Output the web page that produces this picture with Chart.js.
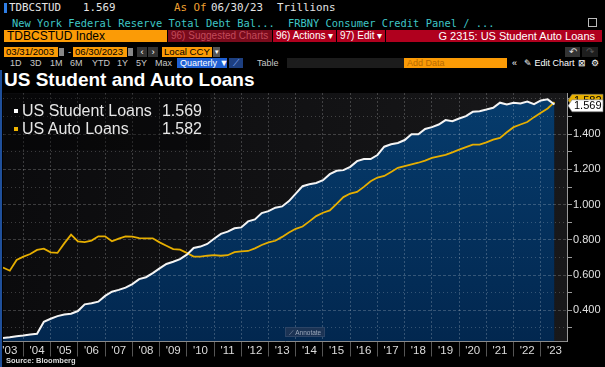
<!DOCTYPE html>
<html>
<head>
<meta charset="utf-8">
<script src="https://cdn.jsdelivr.net/npm/chart.js@4.4.0/dist/chart.umd.min.js"></script>
<style>
body{margin:0;background:#000;width:605px;height:367px;overflow:hidden;position:relative;font-family:"Liberation Sans",Arial,sans-serif;color:#ddd}
.a{position:absolute;white-space:nowrap}
.mono{font-family:"DejaVu Sans Mono",monospace}
.r1{top:2px;font-size:10.8px;line-height:12px;color:#e4e4e4}
.r2{top:17px;font-size:10.4px;line-height:12px;color:#3fc6c6}
.r3{top:30px;height:12px;line-height:12px;font-size:10px;color:#fff;padding-left:3px;box-sizing:border-box;overflow:hidden}
.r4{top:47px;height:10px;line-height:10px;font-size:9.6px;color:#000;box-sizing:border-box;padding-left:2px}
.r5{top:58px;height:10px;line-height:10px;font-size:9px;color:#c8c8c8}
.org{background:#fb9b06}
.red{background:#b0001e}
#plotbg{position:absolute;left:3px;top:93px;width:564px;height:249px;background:linear-gradient(90deg,#0b0b0d,#18181a)}
#legend{position:absolute;left:4px;top:94px;width:206px;height:56px;background:rgba(0,0,0,0.35);font-size:16px;line-height:18px;color:#e6e6e6;padding-top:8px;box-sizing:border-box;z-index:2}
#legend .row{position:relative;height:18px}
#legend .sq{position:absolute;left:10px;top:7px;width:4px;height:4px}
#legend .nm{position:absolute;left:18px;top:0}
#legend .vl{position:absolute;right:8px;top:0}
</style>
</head>
<body>
<!-- header rows -->
<div class="a" style="left:4px;top:3px;width:3px;height:10px;background:#2f7ee6"></div>
<div class="a mono r1" style="left:9px">TDBCSTUD</div>
<div class="a mono r1" style="left:83px">1.569</div>
<div class="a mono r1" style="left:174px;color:#f0a030">As Of</div>
<div class="a mono r1" style="left:211px">06/30/23</div>
<div class="a mono r1" style="left:277px">Trillions</div>
<div class="a mono r2" style="left:12px">New York Federal Reserve Total Debt Bal...</div>
<div class="a mono r2" style="left:288px">FRBNY Consumer Credit Panel / ...</div>
<div class="a" style="left:588px;top:18px;width:7px;height:7px;border:1px solid #bbb"></div>

<div class="a r3 org" style="left:4px;width:163px;color:#000;font-size:12px">TDBCSTUD Index</div>
<div class="a r3" style="left:168px;width:104px;background:#7a0b1c;color:#c24a5a">96) Suggested Charts</div>
<div class="a r3 red" style="left:273px;width:63px">96) Actions ▾</div>
<div class="a r3 red" style="left:337px;width:48px">97) Edit ▾</div>
<div class="a r3 red" style="left:386px;width:216px;text-align:right;padding-right:7px;font-size:11px">G 2315: US Student Auto Loans</div>

<div class="a r4 org" style="left:4px;width:54px">03/31/2003</div>
<div class="a" style="left:59px;top:48px;width:5px;height:8px;background:#888"></div>
<div class="a r4" style="left:66px;color:#ccc">-</div>
<div class="a r4 org" style="left:73px;width:54px">06/30/2023</div>
<div class="a" style="left:128px;top:48px;width:5px;height:8px;background:#888"></div>
<div class="a r4" style="left:137px;width:10px;background:#333;color:#fff;text-align:center;padding:0">‹</div>
<div class="a r4" style="left:148px;width:10px;background:#333;color:#fff;text-align:center;padding:0">›</div>
<div class="a r4 org" style="left:162px;width:50px">Local CCY</div>
<div class="a r4" style="left:213px;width:7px;background:#555;color:#fff;padding:0;text-align:center;font-size:7px">▾</div>
<div class="a r4" style="left:565px;width:15px;background:#333;color:#ddd;padding:0;text-align:center">↶</div>
<div class="a r4" style="left:582px;width:16px;background:#1e1e1e;color:#555;padding:0;text-align:center">↷</div>

<div class="a r5" style="left:10px">1D</div>
<div class="a r5" style="left:30px">3D</div>
<div class="a r5" style="left:50px">1M</div>
<div class="a r5" style="left:70px">6M</div>
<div class="a r5" style="left:92px">YTD</div>
<div class="a r5" style="left:117px">1Y</div>
<div class="a r5" style="left:136px">5Y</div>
<div class="a r5" style="left:155px">Max</div>
<div class="a r5" style="left:177px;width:50px;background:#1f60d4;color:#fff;padding-left:3px;box-sizing:border-box">Quarterly ▼</div>
<div class="a r5" style="left:229px;width:14px;background:#1d3f80;color:#8fb4ff;text-align:center">⟋</div>
<div class="a r5" style="left:257px">Table</div>
<div class="a r5" style="left:287px;width:117px;background:#1c1c1c"></div>
<div class="a r5 org" style="left:404px;width:103px;color:#b86a00;padding-left:3px;box-sizing:border-box">Add Data</div>
<div class="a r5" style="left:512px;color:#fff">«</div>
<div class="a r5" style="left:524px;color:#fff">✎ Edit Chart</div>
<div class="a r5" style="left:578px;color:#fff">⊠</div>
<div class="a r5" style="left:591px;color:#fff">⚙</div>

<div class="a" style="left:4px;top:69px;font-size:19px;line-height:22px;font-weight:bold;color:#fff">US Student and Auto Loans</div>
<div class="a" style="left:0;top:70px;width:2px;height:297px;background:#1f4f9a"></div>

<div id="plotbg"></div>
<canvas id="chart" width="605" height="275" style="position:absolute;left:0;top:92px"></canvas>

<div id="legend">
  <div class="row"><div class="sq" style="background:#fff"></div><div class="nm">US Student Loans</div><div class="vl" id="vStudent"></div></div>
  <div class="row"><div class="sq" style="background:#f0b400"></div><div class="nm">US Auto Loans</div><div class="vl" id="vAuto"></div></div>
</div>
<div class="a" style="left:285px;top:327px;width:40px;height:10px;line-height:10px;background:rgba(30,52,84,0.9);border:1px solid #2c4466;box-sizing:border-box;font-size:6.5px;color:#9aa8bb;text-align:center;z-index:2">⟋ Annotate</div>
<div class="a" style="left:6px;top:357px;font-size:7.5px;line-height:8px;font-weight:bold;color:#ddd">Source: Bloomberg</div>

<script>
// quarterly observations, end of quarter (trillions USD)
const quarters = [
  '2003Q1','2003Q2','2003Q3','2003Q4','2004Q1','2004Q2','2004Q3','2004Q4',
  '2005Q1','2005Q2','2005Q3','2005Q4','2006Q1','2006Q2','2006Q3','2006Q4',
  '2007Q1','2007Q2','2007Q3','2007Q4','2008Q1','2008Q2','2008Q3','2008Q4',
  '2009Q1','2009Q2','2009Q3','2009Q4','2010Q1','2010Q2','2010Q3','2010Q4',
  '2011Q1','2011Q2','2011Q3','2011Q4','2012Q1','2012Q2','2012Q3','2012Q4',
  '2013Q1','2013Q2','2013Q3','2013Q4','2014Q1','2014Q2','2014Q3','2014Q4',
  '2015Q1','2015Q2','2015Q3','2015Q4','2016Q1','2016Q2','2016Q3','2016Q4',
  '2017Q1','2017Q2','2017Q3','2017Q4','2018Q1','2018Q2','2018Q3','2018Q4',
  '2019Q1','2019Q2','2019Q3','2019Q4','2020Q1','2020Q2','2020Q3','2020Q4',
  '2021Q1','2021Q2','2021Q3','2021Q4','2022Q1','2022Q2','2022Q3','2022Q4',
  '2023Q1','2023Q2'
];

const studentLoans = [
  0.243, 0.247, 0.253, 0.257, 0.263, 0.267, 0.335, 0.352,
  0.367, 0.376, 0.381, 0.396, 0.434, 0.440, 0.449, 0.482,
  0.506, 0.516, 0.529, 0.549, 0.577, 0.588, 0.611, 0.638,
  0.663, 0.676, 0.691, 0.716, 0.754, 0.762, 0.777, 0.806,
  0.834, 0.847, 0.866, 0.871, 0.905, 0.916, 0.952, 0.963,
  0.983, 0.990, 1.020, 1.063, 1.105, 1.116, 1.123, 1.139,
  1.173, 1.192, 1.196, 1.215, 1.247, 1.259, 1.259, 1.282,
  1.329, 1.343, 1.350, 1.367, 1.400, 1.400, 1.430, 1.440,
  1.455, 1.480, 1.474, 1.489, 1.503, 1.527, 1.531, 1.540,
  1.550, 1.579, 1.569, 1.579, 1.575, 1.585, 1.571, 1.592,
  1.598, 1.569
];

const autoLoans = [
  0.643, 0.625, 0.686, 0.705, 0.720, 0.743, 0.750, 0.729,
  0.726, 0.780, 0.830, 0.792, 0.787, 0.796, 0.820, 0.820,
  0.792, 0.807, 0.820, 0.818, 0.810, 0.809, 0.809, 0.786,
  0.767, 0.748, 0.745, 0.726, 0.705, 0.705, 0.710, 0.713,
  0.710, 0.713, 0.730, 0.735, 0.737, 0.752, 0.771, 0.786,
  0.795, 0.817, 0.842, 0.863, 0.876, 0.905, 0.935, 0.954,
  0.967, 1.005, 1.043, 1.063, 1.072, 1.101, 1.133, 1.154,
  1.163, 1.186, 1.209, 1.219, 1.229, 1.238, 1.250, 1.265,
  1.274, 1.283, 1.297, 1.312, 1.327, 1.341, 1.341, 1.354,
  1.369, 1.379, 1.411, 1.440, 1.455, 1.469, 1.497, 1.522,
  1.546, 1.582
];

const yearLabels = ["'03","'04","'05","'06","'07","'08","'09","'10","'11","'12","'13",
                    "'14","'15","'16","'17","'18","'19","'20","'21","'22","'23"];
const firstYear = 2003;
const yGrid = [0.3, 0.4, 0.5, 0.6, 0.7, 0.8, 0.9, 1.0, 1.1, 1.2, 1.3, 1.4, 1.5, 1.6];
const yLabels = ['0.400', '0.600', '0.800', '1.000', '1.200', '1.400'];

// quarter label -> decimal year at quarter end
function qToYear(q) {
  return parseInt(q.slice(0, 4)) + parseInt(q.slice(5)) * 0.25;
}
const toPoints = (arr) => arr.map((v, i) => ({ x: qToYear(quarters[i]), y: v }));

document.getElementById('vStudent').textContent = studentLoans[studentLoans.length - 1].toFixed(3);
document.getElementById('vAuto').textContent = autoLoans[autoLoans.length - 1].toFixed(3);

const gridCol = 'rgba(255,255,255,0.2)';

// last value tags on the right axis
const lastTags = {
  id: 'lastTags',
  afterDraw(chart) {
    const { ctx, chartArea } = chart;
    const ys = chart.scales.y;
    const tags = [
      { v: autoLoans[autoLoans.length - 1], bg: '#e8b000' },
      { v: studentLoans[studentLoans.length - 1], bg: '#ffffff' }
    ];
    let p = tags.map(t => ys.getPixelForValue(t.v));
    if (Math.abs(p[0] - p[1]) < 12) {
      const m = (p[0] + p[1]) / 2;
      p = [m - 3, m + 2.5];
    }
    const x0 = chartArea.right + 1;
    ctx.save();
    tags.forEach((t, i) => {
      const y = p[i];
      ctx.beginPath();
      ctx.moveTo(x0, y);
      ctx.lineTo(x0 + 4, y - 6);
      ctx.lineTo(x0 + 35, y - 6);
      ctx.lineTo(x0 + 35, y + 6);
      ctx.lineTo(x0 + 4, y + 6);
      ctx.closePath();
      ctx.fillStyle = t.bg;
      ctx.fill();
      ctx.strokeStyle = '#777';
      ctx.lineWidth = 0.6;
      ctx.stroke();
      ctx.fillStyle = '#000';
      ctx.font = '11px "Liberation Sans", Arial';
      ctx.textBaseline = 'middle';
      ctx.fillText(t.v.toFixed(3), x0 + 6, y + 0.5);
    });
    ctx.restore();
  }
};

new Chart(document.getElementById('chart').getContext('2d'), {
  type: 'line',
  data: {
    datasets: [{
      label: 'US Student Loans',
      data: toPoints(studentLoans),
      borderColor: '#f4f4f4',
      borderWidth: 2,
      pointRadius: 0,
      tension: 0,
      fill: 'start',
      backgroundColor: (c) => {
        const a = c.chart.chartArea;
        if (!a) return 'rgba(0,0,0,0)';
        const g = c.chart.ctx.createLinearGradient(0, a.top, 0, a.bottom);
        g.addColorStop(0, '#063c6d');
        g.addColorStop(1, '#02274f');
        return g;
      }
    }, {
      label: 'US Auto Loans',
      data: toPoints(autoLoans),
      borderColor: '#e6ae00',
      borderWidth: 1.8,
      pointRadius: 0,
      tension: 0,
      fill: false
    }]
  },
  options: {
    responsive: false,
    animation: false,
    layout: { padding: { left: 3, top: 1, right: 0, bottom: 9.5 } },
    plugins: {
      legend: { display: false },
      tooltip: { enabled: false },
      filler: { drawTime: 'beforeDraw' }
    },
    scales: {
      x: {
        type: 'linear',
        min: 2003.25,
        max: 2023.96,
        afterBuildTicks(scale) {
          const t = [];
          yearLabels.forEach((lab, k) => {
            const yr = firstYear + k;
            if (yr > scale.min) t.push({ value: yr });
            t.push({ value: yr + 0.5 });
          });
          scale.ticks = t;
        },
        afterFit(scale) {
          scale.height = 16;
          scale.paddingLeft = 0;
          scale.paddingRight = 0;
        },
        ticks: {
          autoSkip: false,
          maxRotation: 0,
          color: '#dcdcdc',
          font: { size: 11.5, family: '"Liberation Sans", Arial' },
          padding: -13,
          callback: (v) => Number.isInteger(v) ? '' : yearLabels[Math.floor(v) - firstYear]
        },
        grid: {
          color: (c) => c.tick && Number.isInteger(c.tick.value) ? gridCol : 'rgba(0,0,0,0)',
          tickColor: (c) => c.tick && Number.isInteger(c.tick.value) ? '#555' : 'rgba(0,0,0,0)',
          tickLength: 15,
          lineWidth: 1
        },
        border: { display: true, color: '#8a8a8a', width: 1, dash: [2, 2] }
      },
      y: {
        position: 'right',
        min: 0.223,
        max: 1.634,
        afterBuildTicks(scale) {
          scale.ticks = yGrid.map(v => ({ value: v }));
        },
        afterFit(scale) {
          scale.width = 38;
          scale.paddingTop = 0;
          scale.paddingBottom = 0;
        },
        ticks: {
          color: '#e0e0e0',
          padding: 1,
          font: { size: 11, family: '"Liberation Sans", Arial' },
          callback: (v) => yLabels.includes(v.toFixed(3)) ? v.toFixed(3) : ''
        },
        grid: {
          color: gridCol,
          tickColor: '#9a9a9a',
          tickLength: 5,
          lineWidth: 1
        },
        border: {
          display: true, color: '#9a9a9a', width: 1,
          dash: (c) => c.tick && yLabels.includes(c.tick.value.toFixed(3)) ? [3, 2] : [1, 3]
        }
      }
    }
  },
  plugins: [lastTags]
});
</script>
</body>
</html>
